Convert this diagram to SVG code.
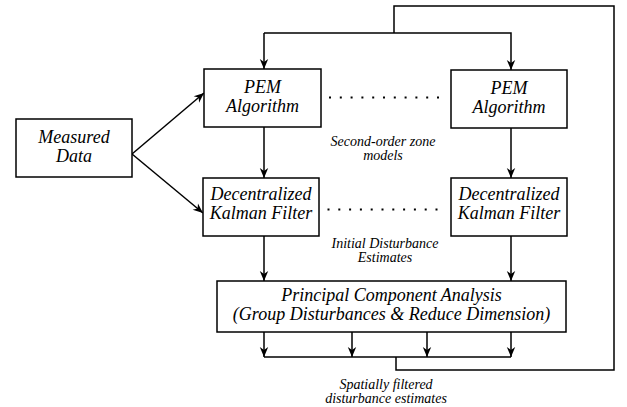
<svg xmlns="http://www.w3.org/2000/svg" width="627" height="407" viewBox="0 0 627 407" font-family="Liberation Serif, Times New Roman, serif" font-style="italic">
<defs>
<marker id="ah" viewBox="-11 -5 12 10" markerWidth="12" markerHeight="10" refX="0" refY="0" orient="auto" markerUnits="userSpaceOnUse">
<path d="M0,0 L-10,-4.2 L-7,0 L-10,4.2 Z" fill="#000"/>
</marker>
</defs>
<g id="connectors" fill="none" stroke="#000" stroke-width="1.5">
<path d="M264,357 L511,357"/>
<path d="M396,357 L396,370 L614,370 L614,6 L394,6 L394,33"/>
<path d="M264,33 L264,69" marker-end="url(#ah)"/>
<path d="M264,33 L511,33 L511,70" marker-end="url(#ah)"/>
<path d="M132,154 L204,93" marker-end="url(#ah)"/>
<path d="M132,154 L203,213" marker-end="url(#ah)"/>
<path d="M264,127 L264,178" marker-end="url(#ah)"/>
<path d="M511,128 L511,178" marker-end="url(#ah)"/>
<path d="M264,236 L264,281" marker-end="url(#ah)"/>
<path d="M511,236 L511,281" marker-end="url(#ah)"/>
<path d="M264,332 L264,357" marker-end="url(#ah)"/>
<path d="M352,332 L352,357" marker-end="url(#ah)"/>
<path d="M427,332 L427,357" marker-end="url(#ah)"/>
<path d="M511,332 L511,357" marker-end="url(#ah)"/>
<path d="M329,97.5 L440,97.5" stroke-width="2" stroke-dasharray="2 8.8"/>
<path d="M327.5,209.5 L440,209.5" stroke-width="2" stroke-dasharray="2 8.8"/>
</g>
<g id="measured">
<rect x="16" y="119" width="116" height="58" fill="#fff" stroke="#000" stroke-width="1.5"/>
<text x="74" y="143" style="font-family:'Liberation Serif',serif;font-style:italic;font-size:18px" text-anchor="middle">Measured</text>
<text x="74" y="162" style="font-family:'Liberation Serif',serif;font-style:italic;font-size:18px" text-anchor="middle">Data</text>
</g>
<g id="pem1">
<rect x="204" y="69" width="117" height="58" fill="#fff" stroke="#000" stroke-width="1.5"/>
<text x="262.5" y="93" style="font-family:'Liberation Serif',serif;font-style:italic;font-size:18px" text-anchor="middle">PEM</text>
<text x="262.5" y="112" style="font-family:'Liberation Serif',serif;font-style:italic;font-size:18px" text-anchor="middle">Algorithm</text>
</g>
<g id="pem2">
<rect x="451" y="70" width="116" height="58" fill="#fff" stroke="#000" stroke-width="1.5"/>
<text x="509" y="94" style="font-family:'Liberation Serif',serif;font-style:italic;font-size:18px" text-anchor="middle">PEM</text>
<text x="509" y="113" style="font-family:'Liberation Serif',serif;font-style:italic;font-size:18px" text-anchor="middle">Algorithm</text>
</g>
<g id="kf1">
<rect x="203" y="178" width="116" height="58" fill="#fff" stroke="#000" stroke-width="1.5"/>
<text x="261" y="200" style="font-family:'Liberation Serif',serif;font-style:italic;font-size:18px" text-anchor="middle">Decentralized</text>
<text x="261" y="219" style="font-family:'Liberation Serif',serif;font-style:italic;font-size:18px" text-anchor="middle">Kalman Filter</text>
</g>
<g id="kf2">
<rect x="451" y="178" width="116" height="58" fill="#fff" stroke="#000" stroke-width="1.5"/>
<text x="509" y="200" style="font-family:'Liberation Serif',serif;font-style:italic;font-size:18px" text-anchor="middle">Decentralized</text>
<text x="509" y="219" style="font-family:'Liberation Serif',serif;font-style:italic;font-size:18px" text-anchor="middle">Kalman Filter</text>
</g>
<g id="pca">
<rect x="217" y="281" width="349" height="51" fill="#fff" stroke="#000" stroke-width="1.5"/>
<text x="391.5" y="301" style="font-family:'Liberation Serif',serif;font-style:italic;font-size:18px" text-anchor="middle">Principal Component Analysis</text>
<text x="391.5" y="320" style="font-family:'Liberation Serif',serif;font-style:italic;font-size:18px" text-anchor="middle">(Group Disturbances &amp; Reduce Dimension)</text>
</g>
<g id="labels">
<text x="383" y="146" style="font-family:'Liberation Serif',serif;font-style:italic;font-size:14px" text-anchor="middle">Second-order zone</text>
<text x="383" y="160" style="font-family:'Liberation Serif',serif;font-style:italic;font-size:14px" text-anchor="middle">models</text>
<text x="385" y="248" style="font-family:'Liberation Serif',serif;font-style:italic;font-size:14px" text-anchor="middle">Initial Disturbance</text>
<text x="385" y="262" style="font-family:'Liberation Serif',serif;font-style:italic;font-size:14px" text-anchor="middle">Estimates</text>
<text x="386" y="389" style="font-family:'Liberation Serif',serif;font-style:italic;font-size:14px" text-anchor="middle">Spatially filtered</text>
<text x="386" y="403" style="font-family:'Liberation Serif',serif;font-style:italic;font-size:14px" text-anchor="middle">disturbance estimates</text>
</g>
</svg>
